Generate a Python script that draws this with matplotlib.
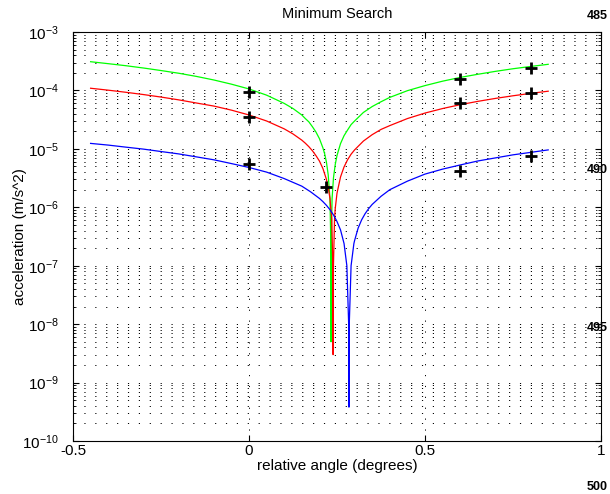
import matplotlib
matplotlib.use("Agg")
import matplotlib.pyplot as plt
import numpy as np

plt.rcParams['font.family'] = ['Liberation Sans', 'DejaVu Sans']

# curves (relative angle in degrees, acceleration in m/s^2)
x_green = [-0.45, -0.40, -0.35, -0.30, -0.25, -0.20, -0.15, -0.10, -0.05, 0.00,
           0.05, 0.10, 0.125, 0.15, 0.16, 0.17, 0.18, 0.19, 0.20, 0.21, 0.215, 0.22, 0.225,
           0.23, 0.2325, 0.233, 0.2335, 0.236, 0.24, 0.245, 0.25, 0.26, 0.27, 0.28, 0.29,
           0.30, 0.325, 0.35, 0.375, 0.40, 0.45, 0.50, 0.55, 0.60, 0.65, 0.70, 0.75, 0.80, 0.85]
y_green = [3.10e-4, 2.87e-4, 2.65e-4, 2.42e-4, 2.19e-4, 1.97e-4, 1.74e-4, 1.51e-4, 1.28e-4, 1.06e-4,
           8.3e-5, 6.0e-5, 4.9e-5, 3.8e-5, 3.3e-5, 2.9e-5, 2.4e-5, 1.95e-5, 1.5e-5, 1.04e-5, 8.2e-6, 5.9e-6, 3.6e-6,
           1.4e-6, 2.3e-7, 5.0e-9, 2.3e-7, 1.4e-6, 3.2e-6, 5.4e-6, 7.7e-6, 1.23e-5, 1.68e-5, 2.1e-5, 2.6e-5,
           3.0e-5, 4.2e-5, 5.3e-5, 6.4e-5, 7.6e-5, 9.9e-5, 1.21e-4, 1.44e-4, 1.67e-4, 1.89e-4, 2.12e-4, 2.35e-4, 2.57e-4, 2.80e-4]

x_red = [-0.45, -0.40, -0.35, -0.30, -0.25, -0.20, -0.15, -0.10, -0.05, 0.00,
         0.05, 0.10, 0.125, 0.15, 0.16, 0.17, 0.18, 0.19, 0.20, 0.21, 0.22, 0.225, 0.23,
         0.235, 0.2385, 0.239, 0.2395, 0.243, 0.245, 0.25, 0.26, 0.27, 0.28, 0.29,
         0.30, 0.325, 0.35, 0.375, 0.40, 0.45, 0.50, 0.55, 0.60, 0.65, 0.70, 0.75, 0.80, 0.85]
y_red = [1.09e-4, 1.01e-4, 9.3e-5, 8.5e-5, 7.7e-5, 6.9e-5, 6.1e-5, 5.4e-5, 4.6e-5, 3.8e-5,
         3.0e-5, 2.2e-5, 1.8e-5, 1.41e-5, 1.25e-5, 1.09e-5, 9.3e-6, 7.7e-6, 6.2e-6, 4.6e-6, 3.0e-6, 2.2e-6, 1.42e-6,
         6.3e-7, 7.9e-8, 3.0e-9, 7.9e-8, 6.3e-7, 9.5e-7, 1.74e-6, 3.3e-6, 4.9e-6, 6.5e-6, 8.1e-6,
         9.6e-6, 1.36e-5, 1.75e-5, 2.15e-5, 2.5e-5, 3.3e-5, 4.1e-5, 4.9e-5, 5.7e-5, 6.5e-5, 7.3e-5, 8.1e-5, 8.9e-5, 9.7e-5]

x_blue = [-0.45, -0.40, -0.35, -0.30, -0.25, -0.20, -0.15, -0.10, -0.05, 0.00,
          0.05, 0.10, 0.15, 0.175, 0.20, 0.21, 0.22, 0.23, 0.24, 0.25, 0.26, 0.27, 0.278,
          0.2835, 0.284, 0.2845, 0.29, 0.298, 0.30, 0.31, 0.32, 0.33, 0.34, 0.35, 0.375,
          0.40, 0.45, 0.50, 0.55, 0.60, 0.65, 0.70, 0.75, 0.80, 0.85]
y_blue = [1.24e-5, 1.16e-5, 1.07e-5, 9.9e-6, 9.0e-6, 8.2e-6, 7.3e-6, 6.5e-6, 5.6e-6, 4.8e-6,
          4.0e-6, 3.1e-6, 2.3e-6, 1.84e-6, 1.42e-6, 1.25e-6, 1.08e-6, 9.1e-7, 7.4e-7, 5.7e-7, 4.1e-7, 2.4e-7, 1.0e-7,
          8.5e-9, 3.8e-10, 8.5e-9, 1.0e-7, 2.4e-7, 2.7e-7, 4.4e-7, 6.1e-7, 7.8e-7, 9.5e-7, 1.12e-6, 1.54e-6,
          2.0e-6, 2.8e-6, 3.7e-6, 4.5e-6, 5.3e-6, 6.2e-6, 7.0e-6, 7.9e-6, 8.7e-6, 9.6e-6]

# measured points (black crosses)
pts_x = [0.0, 0.6, 0.8, 0.0, 0.6, 0.8, 0.0, 0.6, 0.8, 0.22]
pts_y = [9.5e-5, 1.57e-4, 2.45e-4, 3.55e-5, 6.0e-5, 9.1e-5, 5.4e-6, 4.2e-6, 7.5e-6, 2.24e-6]

side_labels = ["485", "490", "495", "500"]
side_y = [16, 170, 328, 487]  # pixel rows from top

fig = plt.figure(figsize=(6.10, 4.94), dpi=100)
ax = fig.add_axes([73 / 610, 1 - 441 / 494, 528 / 610, 409 / 494])

ax.plot(x_green, y_green, color="#00ff00", lw=0.9)
ax.plot(x_red, y_red, color="#ff0000", lw=0.9)
ax.plot(x_blue, y_blue, color="#0000ff", lw=0.9)
ax.plot(pts_x, pts_y, linestyle="none", marker="+", color="k", ms=9, mew=2)

ax.set_yscale("log")
ax.set_xlim(-0.5, 1)
ax.set_ylim(1e-10, 1e-3)
ax.set_xticks([-0.5, 0, 0.5, 1])
ax.set_xticklabels(["-0.5", "0", "0.5", "1"])

grid_style = dict(color="k", linestyle=(0, (1.2, 10)), lw=0.7)
ax.grid(True, which="major", axis="both", **grid_style)
ax.grid(True, which="minor", axis="y", **grid_style)
ax.tick_params(which="both", direction="in", top=True, right=True, labelsize=11)
ax.tick_params(which="major", length=4)
ax.tick_params(which="minor", length=2)
ax.tick_params(axis="x", pad=2)
ax.tick_params(axis="y", pad=10)
for s in ax.spines.values():
    s.set_linewidth(0.8)

ax.set_title("Minimum Search", fontsize=10.5, pad=10)
ax.set_xlabel("relative angle (degrees)", fontsize=11, labelpad=1)
ax.set_ylabel("acceleration (m/s^2)", fontsize=11, labelpad=-3)

for lab, yy in zip(side_labels, side_y):
    fig.text(608 / 610, 1 - yy / 494, lab, ha="right", va="center",
             fontsize=9, fontweight="bold")

fig.savefig("out.png", dpi=100)
